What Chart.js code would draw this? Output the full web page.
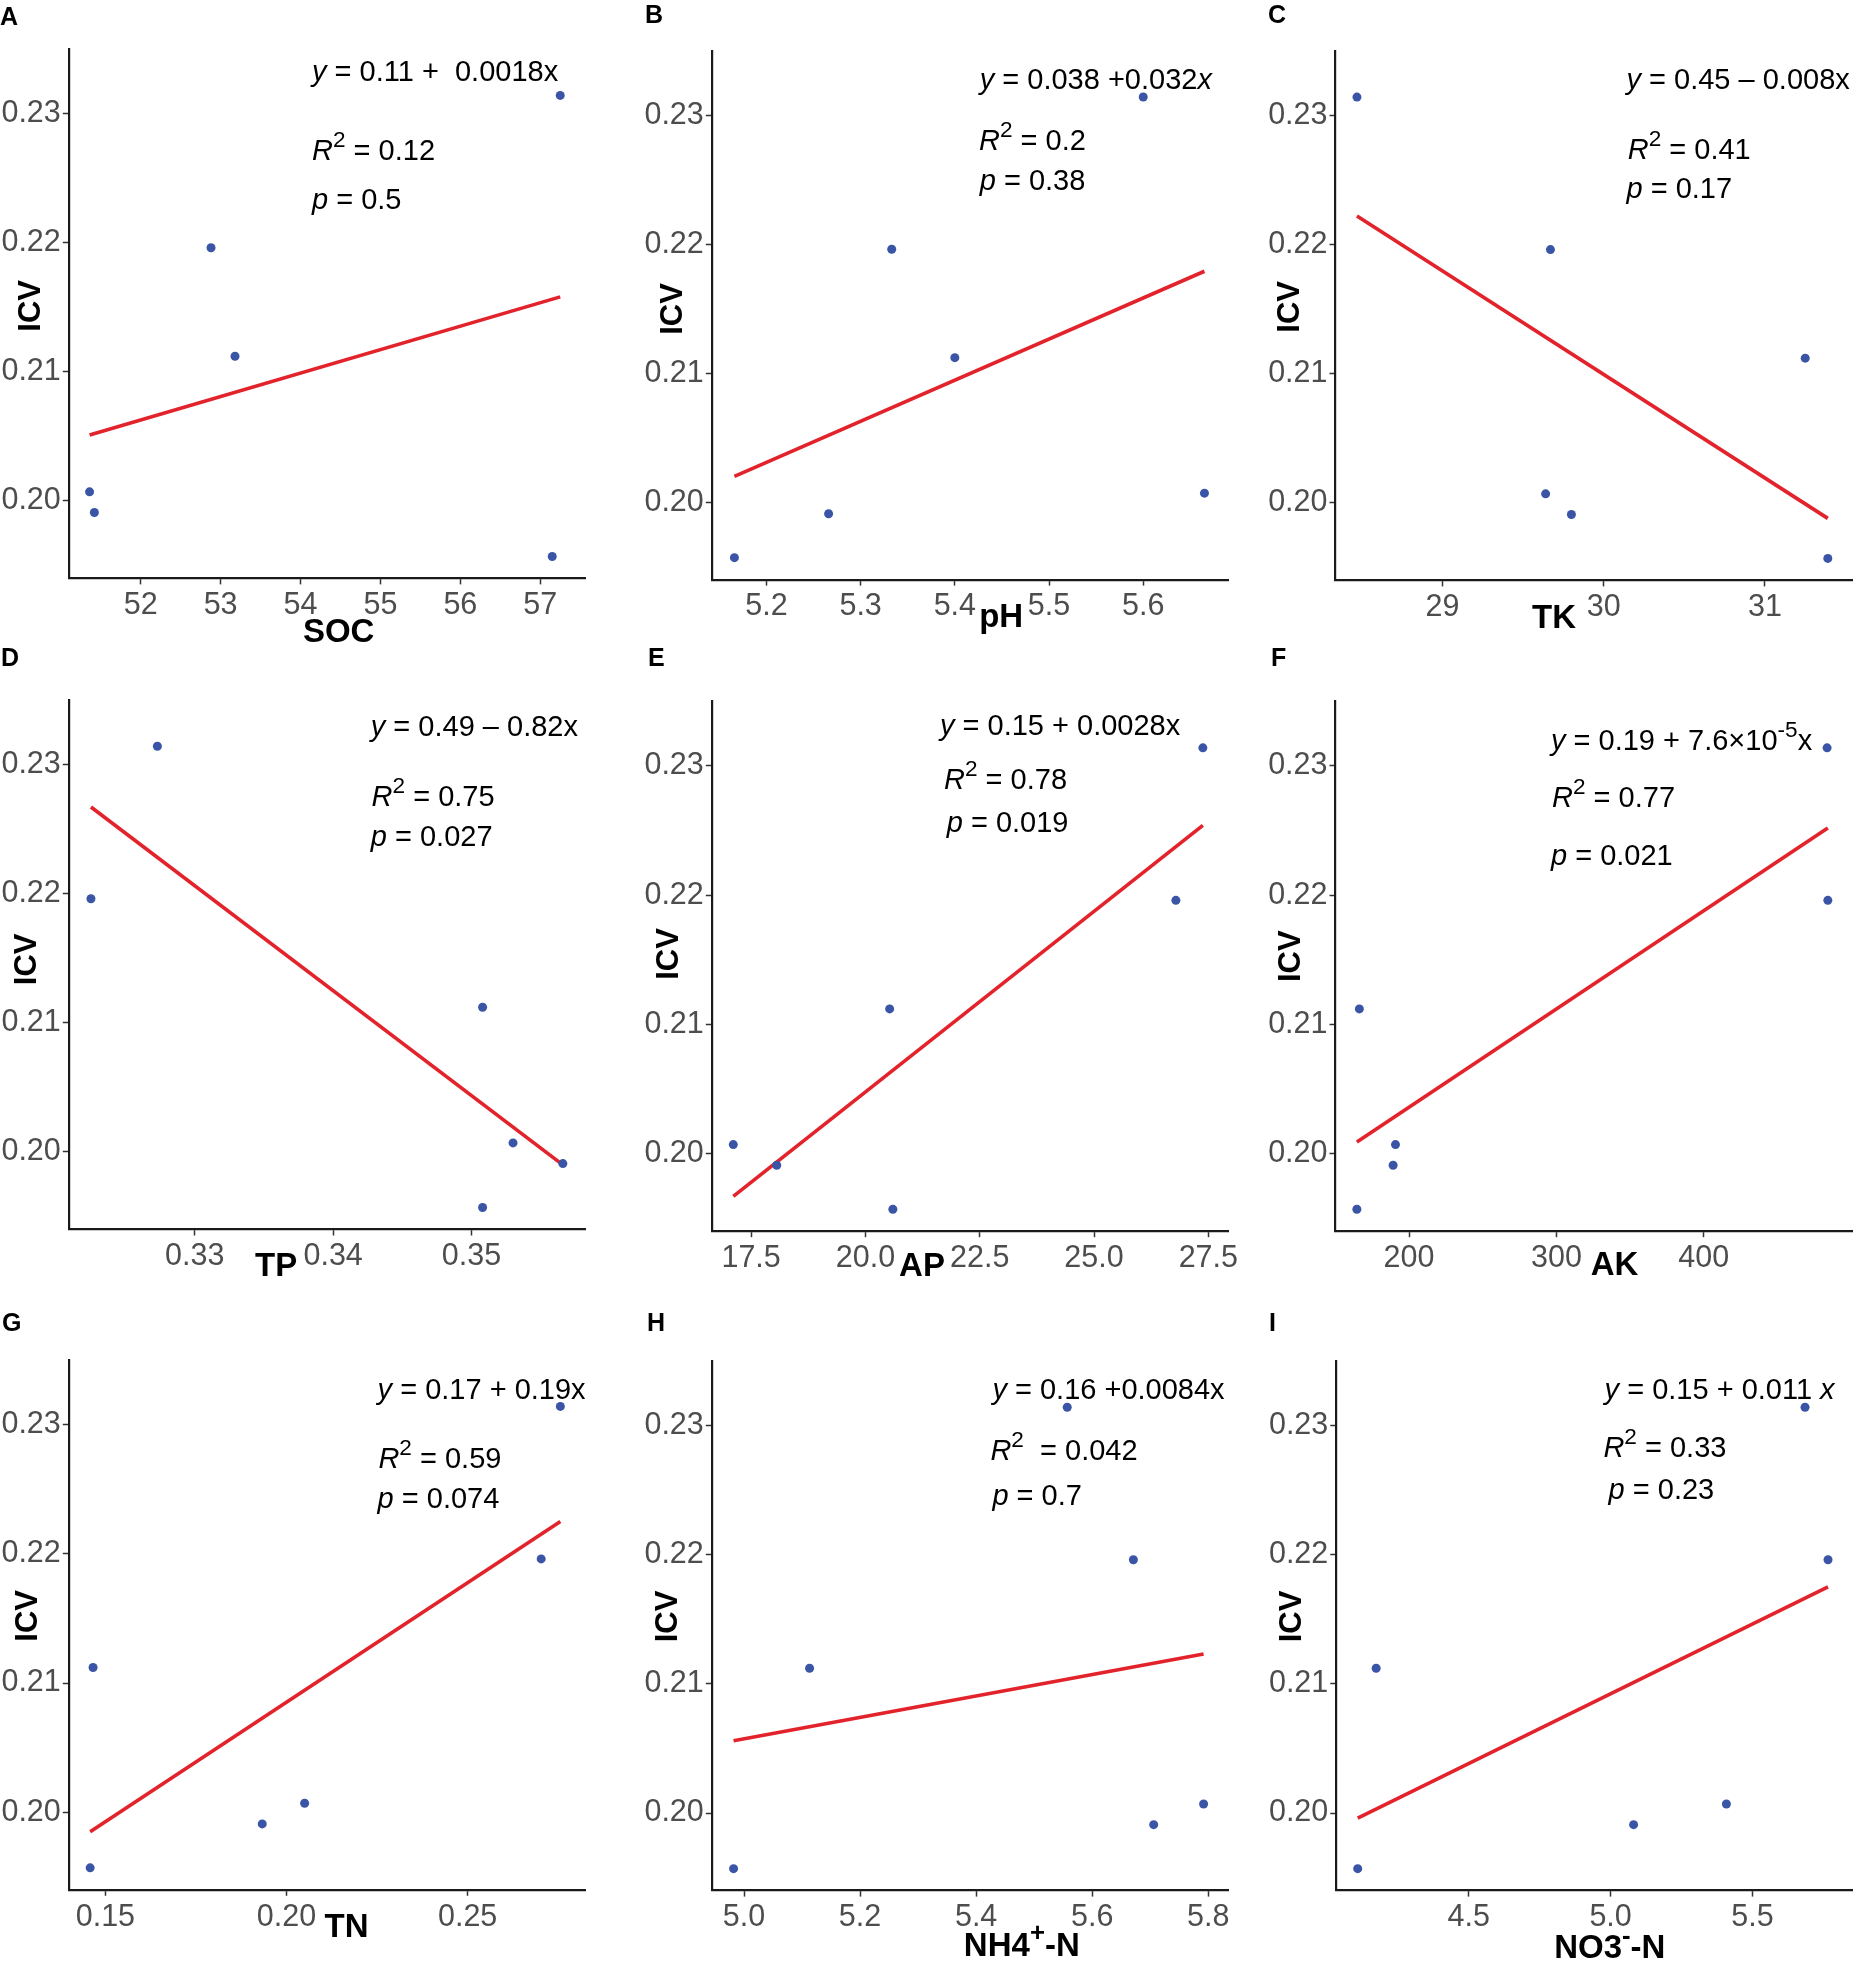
<!DOCTYPE html>
<html><head><meta charset="utf-8">
<script src="https://cdn.jsdelivr.net/npm/chart.js@4.4.0/dist/chart.umd.min.js"></script>
<style>
html,body{margin:0;padding:0;background:#fff;}
#wrap{position:relative;width:1853px;height:1966px;overflow:hidden;background:#fff;}
#wrap canvas{position:absolute;}
</style></head><body><div id="wrap"></div>
<script>
// ---- data (six sites, same order in every array) ----
const ICV  = [0.2314, 0.2196, 0.2112, 0.2007, 0.1991, 0.1957];
const SOC  = [57.25, 52.88, 53.18, 51.36, 51.42, 57.15];
const pH   = [5.600, 5.333, 5.400, 5.665, 5.266, 5.166];
const TK   = [28.47, 29.67, 31.25, 29.64, 29.80, 31.39];
const TP   = [0.3273, 0.3225, 0.3508, 0.3530, 0.3566, 0.3508];
const AP   = [27.38, 26.79, 20.53, 17.11, 18.06, 20.60];
const AK   = [483.7, 484.2, 166.3, 190.8, 189.2, 164.6];
const TN   = [0.2756, 0.2703, 0.1466, 0.2050, 0.1933, 0.1458];
const NH4  = [5.557, 5.671, 5.113, 5.792, 5.706, 4.982];
const NO3  = [5.685, 5.766, 4.174, 5.408, 5.081, 4.109];

// fitted ICV at the smallest and largest x of each panel
const fitSOC = [0.2051, 0.2158];
const fitPH  = [0.2020, 0.2179];
const fitTK  = [0.2222, 0.1988];
const fitTP  = [0.2267, 0.1990];
const fitAP  = [0.1967, 0.2254];
const fitAK  = [0.2009, 0.2252];
const fitTN  = [0.1985, 0.2225];
const fitNH4 = [0.2056, 0.2123];
const fitNO3 = [0.1996, 0.2175];

// tick labels
const yTickLabels   = ['0.20','0.21','0.22','0.23'];
const xTicksSOC = ['52','53','54','55','56','57'];
const xTicksPH  = ['5.2','5.3','5.4','5.5','5.6'];
const xTicksTK  = ['29','30','31'];
const xTicksTP  = ['0.33','0.34','0.35'];
const xTicksAP  = ['17.5','20.0','22.5','25.0','27.5'];
const xTicksAK  = ['200','300','400'];
const xTicksTN  = ['0.15','0.20','0.25'];
const xTicksNH4 = ['5.0','5.2','5.4','5.6','5.8'];
const xTicksNO3 = ['4.5','5.0','5.5'];

const FONT = '"Liberation Sans", Arial, Helvetica, sans-serif';
const Y_MIN = 0.1940, Y_MAX = 0.2350;

const I = true;
function Y(rest){ return [{t:'y',it:I},{t:rest}]; }
function R2(v){ return [{t:'R',it:I},{t:'2',sup:I},{t:v}]; }
function P(v){ return [{t:'p',it:I},{t:v}]; }

const cols = [[0,622],[612,630],[1226,627]];
const rows = [[0,652],[640,666],[1300,666]];

const panels = [
 {letter:'A', xs:SOC, fit:fitSOC, xMin:51.10, xMax:57.56, xTicks:xTicksSOC, c:0, r:0,
  box:[68.8,48.9,585,578.4], letterPos:[0,25], yTitle:[39.7,305.8], xTitle:[338.7,641.8], xSegs:[{t:'SOC'}],
  notes:[[Y(' = 0.11 +  0.0018x'),312,80.8],[R2(' = 0.12'),312,159.6],[P(' = 0.5'),312,208.5]]},
 {letter:'B', xs:pH, fit:fitPH, xMin:5.142, xMax:5.690, xTicks:xTicksPH, c:1, r:0,
  box:[711.8,50.6,1228,579.6], letterPos:[645,23], yTitle:[682.4,308.9], xTitle:[1001.2,626.9], xSegs:[{t:'pH'}],
  notes:[[[{t:'y',it:I},{t:' = 0.038 +0.032'},{t:'x',it:I}],979.7,89.1],[R2(' = 0.2'),979,150],[P(' = 0.38'),979.7,189.9]]},
 {letter:'C', xs:TK, fit:fitTK, xMin:28.337, xMax:31.54, xTicks:xTicksTK, c:2, r:0,
  box:[1335.5,50.6,1852,580.4], letterPos:[1268,23], yTitle:[1298.6,306.8], xTitle:[1554,628.1], xSegs:[{t:'TK'}],
  notes:[[Y(' = 0.45 \u2013 0.008x'),1626.5,89.1],[R2(' = 0.41'),1627.7,158.8],[P(' = 0.17'),1626.5,198.2]]},
 {letter:'D', xs:TP, fit:fitTP, xMin:0.3209, xMax:0.3582, xTicks:xTicksTP, c:0, r:1,
  box:[68.8,699.7,585,1229.5], letterPos:[1,666], yTitle:[35.8,959.3], xTitle:[276.2,1276.3], xSegs:[{t:'TP'}],
  notes:[[Y(' = 0.49 \u2013 0.82x'),370.8,736.3],[R2(' = 0.75'),371.6,805.7],[P(' = 0.027'),370.8,845.7]]},
 {letter:'E', xs:AP, fit:fitAP, xMin:16.64, xMax:27.93, xTicks:xTicksAP, c:1, r:1,
  box:[711.8,701.3,1228,1231.2], letterPos:[648,666], yTitle:[678.4,954], xTitle:[922,1276.3], xSegs:[{t:'AP'}],
  notes:[[Y(' = 0.15 + 0.0028x'),940,735.4],[R2(' = 0.78'),944,788.9],[P(' = 0.019'),946.7,831.8]]},
 {letter:'F', xs:AK, fit:fitAK, xMin:150.1, xMax:500.6, xTicks:xTicksAK, c:2, r:1,
  box:[1335.5,701.3,1852,1231.2], letterPos:[1271,666], yTitle:[1299.8,956.2], xTitle:[1614.6,1275], xSegs:[{t:'AK'}],
  notes:[[[{t:'y',it:I},{t:' = 0.19 + 7.6\u00d710'},{t:'-5',sup:I},{t:'x'}],1551,750.2],[R2(' = 0.77'),1552,806.6],[P(' = 0.021'),1551,864.6]]},
 {letter:'G', xs:TN, fit:fitTN, xMin:0.1399, xMax:0.2824, xTicks:xTicksTN, c:0, r:2,
  box:[68.8,1359.9,585,1889.8], letterPos:[2,1331], yTitle:[36.6,1615.8], xTitle:[346.6,1937.3], xSegs:[{t:'TN'}],
  notes:[[Y(' = 0.17 + 0.19x'),377.6,1398.6],[R2(' = 0.59'),378.4,1468],[P(' = 0.074'),377.6,1508]]},
 {letter:'H', xs:NH4, fit:fitNH4, xMin:4.9445, xMax:5.8356, xTicks:xTicksNH4, c:1, r:2,
  box:[711.8,1360.7,1228.9,1890.6], letterPos:[647,1331], yTitle:[676.8,1616.4], xTitle:[1021.8,1956.3], xSegs:[{t:'NH4'},{t:'+',sup:I},{t:'-N'}],
  notes:[[Y(' = 0.16 +0.0084x'),992.4,1399.4],[R2('  = 0.042'),990.4,1459.6],[P(' = 0.7'),992.4,1504.7]]},
 {letter:'I', xs:NO3, fit:fitNO3, xMin:4.0336, xMax:5.854, xTicks:xTicksNO3, c:2, r:2,
  box:[1336.3,1360.7,1853,1890.6], letterPos:[1269,1331], yTitle:[1301.4,1616.4], xTitle:[1609.8,1958.4], xSegs:[{t:'NO3'},{t:'-',sup:I},{t:'-N'}],
  notes:[[[{t:'y',it:I},{t:' = 0.15 + 0.011 '},{t:'x',it:I}],1604.6,1399.4],[R2(' = 0.33'),1603.4,1456.7],[P(' = 0.23'),1608.6,1498.8]]}
];

function segFont(s, size, bold){
  const sz = s.sup ? size*0.78 : size;
  return (s.it ? 'italic ' : '') + (bold ? 'bold ' : '') + sz + 'px ' + FONT;
}
function measureRich(ctx, segs, size, bold){
  let w = 0;
  for (const s of segs){ ctx.font = segFont(s,size,bold); w += ctx.measureText(s.t).width; }
  return w;
}
function drawRich(ctx, segs, x, y, size, bold){
  let cx = x;
  for (const s of segs){
    ctx.font = segFont(s,size,bold);
    ctx.fillText(s.t, cx, y + (s.sup ? -size*0.45 : 0));
    cx += ctx.measureText(s.t).width;
  }
}

function decor(p, ox, oy){
  return {
    id:'decor'+p.letter,
    afterDraw(chart){
      const ctx = chart.ctx;
      ctx.save();
      ctx.fillStyle = '#000';
      ctx.textAlign = 'left';
      ctx.textBaseline = 'alphabetic';
      ctx.font = 'bold 25px ' + FONT;
      ctx.fillText(p.letter, p.letterPos[0]-ox, p.letterPos[1]-oy);
      ctx.save();
      ctx.translate(p.yTitle[0]-ox, p.yTitle[1]-oy);
      ctx.rotate(-Math.PI/2);
      ctx.textAlign = 'center';
      ctx.font = 'bold 31px ' + FONT;
      ctx.fillText('ICV', 0, 0);
      ctx.restore();
      const w = measureRich(ctx, p.xSegs, 33, true);
      drawRich(ctx, p.xSegs, p.xTitle[0]-ox-w/2, p.xTitle[1]-oy, 33, true);
      for (const n of p.notes) drawRich(ctx, n[0], n[1]-ox, n[2]-oy, 29, false);
      ctx.restore();
    }
  };
}

const wrap = document.getElementById('wrap');
const yVals = yTickLabels.map(Number);

panels.forEach(p => {
  const [ox, cw] = cols[p.c];
  const [oy, ch] = rows[p.r];
  const cv = document.createElement('canvas');
  cv.width = cw; cv.height = ch;
  cv.style.left = ox+'px'; cv.style.top = oy+'px';
  cv.style.width = cw+'px'; cv.style.height = ch+'px';
  wrap.appendChild(cv);
  const L = p.box[0]-ox, T = p.box[1]-oy, R = p.box[2]-ox, B = p.box[3]-oy;
  const xVals = p.xTicks.map(Number);
  const tickFont = {family:FONT, size:30.5};
  const grid = {display:true, drawOnChartArea:false, drawTicks:true, tickLength:6, tickColor:'#333333', tickWidth:1.5};
  const border = {display:true, color:'#1A1A1A', width:2.2};
  new Chart(cv, {
    type:'scatter',
    data:{datasets:[
      {data:p.xs.map((x,i)=>({x:x, y:ICV[i]})), pointRadius:4.5, pointHoverRadius:4.5,
       pointBackgroundColor:'#3A55A5', pointBorderWidth:0, backgroundColor:'#3A55A5', order:0, clip:false},
      {data:[{x:Math.min(...p.xs), y:p.fit[0]},{x:Math.max(...p.xs), y:p.fit[1]}], showLine:true,
       borderColor:'#E3232B', borderWidth:3.6, pointRadius:0, pointHoverRadius:0, order:1}
    ]},
    options:{
      responsive:false, animation:false,
      layout:{autoPadding:false, padding:{left:0, top:T, right:cw-R, bottom:0}},
      plugins:{legend:{display:false}, tooltip:{enabled:false}},
      events:[],
      scales:{
        x:{type:'linear', position:'bottom', min:p.xMin, max:p.xMax,
           afterFit(s){ s.height = ch - B; },
           afterBuildTicks(s){ s.ticks = xVals.map(v=>({value:v})); },
           ticks:{autoSkip:false, maxRotation:0, minRotation:0, padding:3, color:'#4D4D4D', font:tickFont,
                  callback:(v,i)=>p.xTicks[i]},
           grid:grid, border:border},
        y:{type:'linear', position:'left', min:Y_MIN, max:Y_MAX,
           afterFit(s){ s.width = L; },
           afterBuildTicks(s){ s.ticks = yVals.map(v=>({value:v})); },
           ticks:{autoSkip:false, padding:2, color:'#4D4D4D', font:tickFont,
                  callback:(v,i)=>yTickLabels[i]},
           grid:grid, border:border}
      }
    },
    plugins:[decor(p, ox, oy)]
  });
});
</script>
</body></html>
